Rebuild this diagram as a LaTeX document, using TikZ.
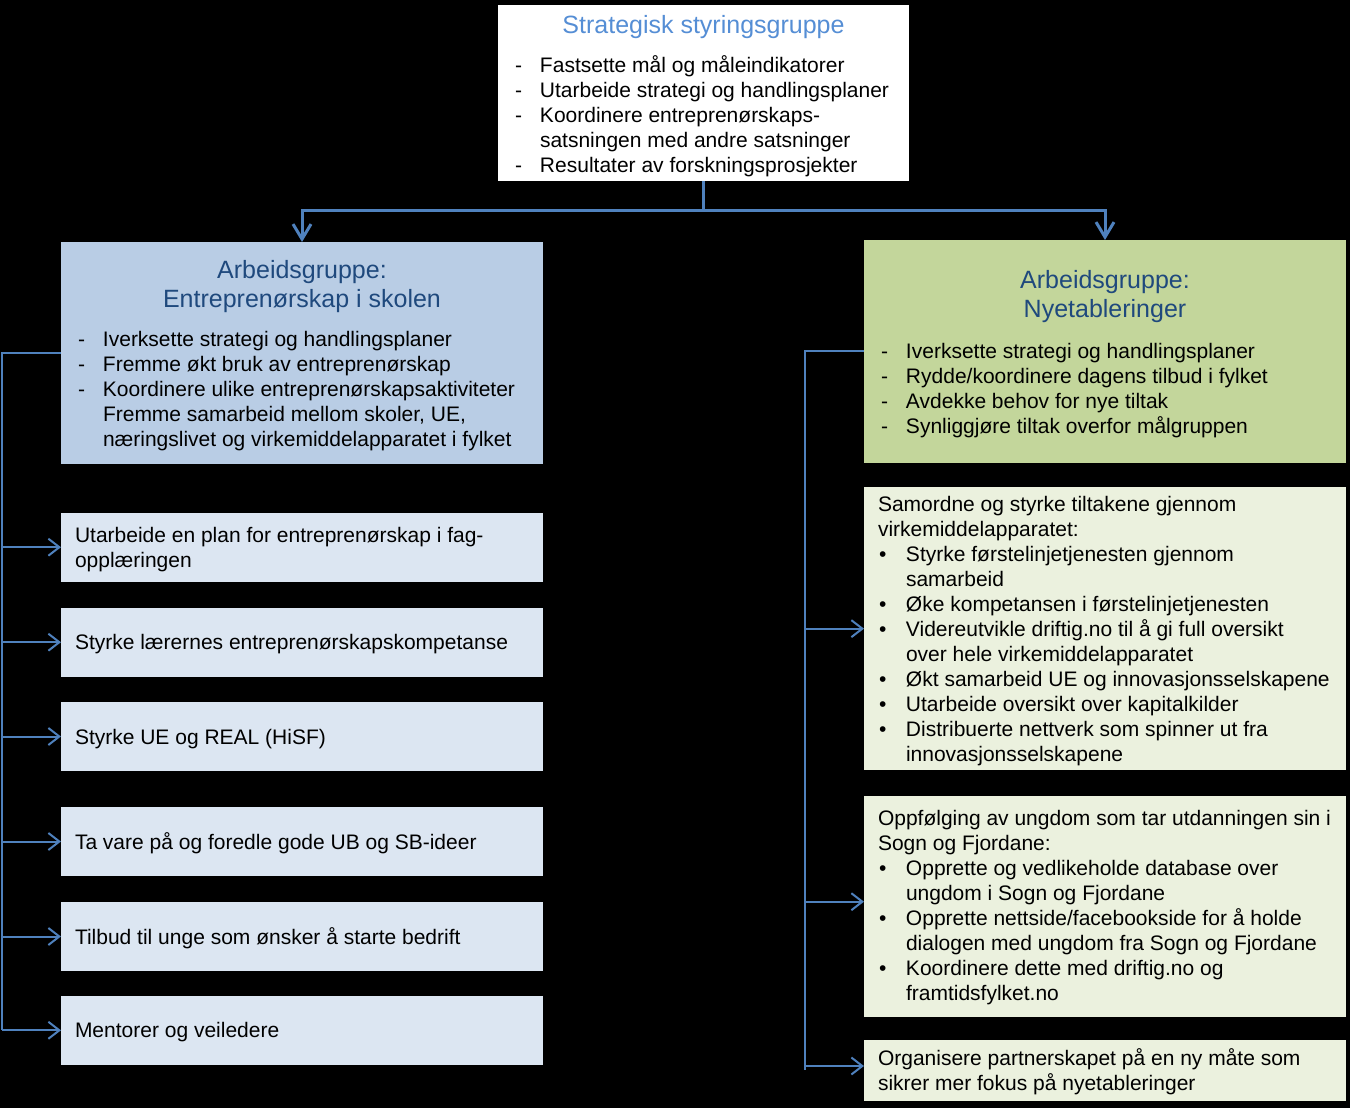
\documentclass[tikz,border=0pt]{standalone}
\usepackage{fontspec}
\setmainfont{Liberation Sans}
\usetikzlibrary{arrows.meta}
\definecolor{conn}{HTML}{4F81BD}
\definecolor{toptitle}{HTML}{558ED5}
\definecolor{grptitle}{HTML}{1F497D}
\definecolor{lgfill}{HTML}{B9CDE5}
\definecolor{rgfill}{HTML}{C3D69B}
\definecolor{lsfill}{HTML}{DCE6F2}
\definecolor{rsfill}{HTML}{EBF1DE}
\newcommand{\itemfont}{\fontsize{21}{25}\selectfont}
\newcommand{\titlefont}{\fontsize{25}{29.5}\selectfont}
\renewcommand{\arraystretch}{1}
\tikzset{
  boxnode/.style={draw=none, inner sep=0pt, outer sep=0pt, minimum width=482pt},
  txt/.style={inner sep=0pt, outer sep=0pt, anchor=base west, font=\itemfont},
  ttl/.style={inner sep=0pt, outer sep=0pt, anchor=base, font=\titlefont},
  thinline/.style={draw=conn, line width=2pt},
  thinarrow/.style={draw=conn, line width=2pt, -{Straight Barb[length=11pt,width=17pt]}},
  thickline/.style={draw=conn, line width=3pt},
  thickarrow/.style={draw=conn, line width=3pt, line join=miter, -{Straight Barb[length=15pt,width=18pt]}}
}
\begin{document}
\begin{tikzpicture}[x=1pt,y=-1pt]
\fill[black] (0,0) rectangle (1350,1108);
\useasboundingbox (0,0) rectangle (1350,1108);

% boxes
\node[boxnode, fill=white, minimum width=410.5pt, minimum height=176pt] (top) at (703.25,93) {};
\node[boxnode, fill=lgfill, minimum height=221.5pt] (lg) at (302,352.75) {};
\node[boxnode, fill=rgfill, minimum height=222.5pt] (rg) at (1105,351.25) {};
\node[boxnode, fill=lsfill, minimum height=69pt] (s1) at (302,547.2) {};
\node[boxnode, fill=lsfill, minimum height=69pt] (s2) at (302,642.2) {};
\node[boxnode, fill=lsfill, minimum height=68.5pt] (s3) at (302,736.5) {};
\node[boxnode, fill=lsfill, minimum height=68.5pt] (s4) at (302,841.5) {};
\node[boxnode, fill=lsfill, minimum height=68.5pt] (s5) at (302,936.5) {};
\node[boxnode, fill=lsfill, minimum height=68.7pt] (s6) at (302,1030.3) {};
\node[boxnode, fill=rsfill, minimum height=282.7pt] (r1) at (1105,628.65) {};
\node[boxnode, fill=rsfill, minimum height=221pt] (r2) at (1105,906.2) {};
\node[boxnode, fill=rsfill, minimum height=60.7pt] (r3) at (1105,1070.35) {};

% top box text
\node[ttl, text=toptitle] (toptitle) at (703.5,33.3) {Strategisk styringsgruppe};
\node[txt] (toptext) at (515,72.5) {\begin{tabular}[t]{@{}p{25pt}@{}l@{}}
- & Fastsette mål og måleindikatorer\\
- & Utarbeide strategi og handlingsplaner\\
- & Koordinere entreprenørskaps-\\
  & satsningen med andre satsninger\\
- & Resultater av forskningsprosjekter
\end{tabular}};

% left group text
\node[ttl, text=grptitle] (lgtitle) at (302,278.3) {\begin{tabular}[t]{@{}c@{}}Arbeidsgruppe:\\Entreprenørskap i skolen\end{tabular}};
\node[txt] (lgtext) at (78,346.7) {\begin{tabular}[t]{@{}p{25pt}@{}l@{}}
- & Iverksette strategi og handlingsplaner\\
- & Fremme økt bruk av entreprenørskap\\
- & Koordinere ulike entreprenørskapsaktiviteter\\
  & Fremme samarbeid mellom skoler, UE,\\
  & næringslivet og virkemiddelapparatet i fylket
\end{tabular}};

% right group text
\node[ttl, text=grptitle] (rgtitle) at (1105,288.3) {\begin{tabular}[t]{@{}c@{}}Arbeidsgruppe:\\Nyetableringer\end{tabular}};
\node[txt] (rgtext) at (881,358.3) {\begin{tabular}[t]{@{}p{25pt}@{}l@{}}
- & Iverksette strategi og handlingsplaner\\
- & Rydde/koordinere dagens tilbud i fylket\\
- & Avdekke behov for nye tiltak\\
- & Synliggjøre tiltak overfor målgruppen
\end{tabular}};

% left sub boxes text
\node[txt] (s1t) at (75,542.5) {\begin{tabular}[t]{@{}l@{}}Utarbeide en plan for entreprenørskap i fag-\\opplæringen\end{tabular}};
\node[txt] (s2t) at (75,649.7) {Styrke lærernes entreprenørskapskompetanse};
\node[txt] (s3t) at (75,744) {Styrke UE og REAL (HiSF)};
\node[txt] (s4t) at (75,849) {Ta vare på og foredle gode UB og SB-ideer};
\node[txt] (s5t) at (75,944) {Tilbud til unge som ønsker å starte bedrift};
\node[txt] (s6t) at (75,1037.8) {Mentorer og veiledere};

% right sub boxes text
\node[txt] (r1t) at (878,511.7) {\begin{tabular}[t]{@{}p{28pt}@{}l@{}}
\multicolumn{2}{@{}l@{}}{Samordne og styrke tiltakene gjennom}\\
\multicolumn{2}{@{}l@{}}{virkemiddelapparatet:}\\
\hspace*{1pt}\textbullet & Styrke førstelinjetjenesten gjennom\\
 & samarbeid\\
\hspace*{1pt}\textbullet & Øke kompetansen i førstelinjetjenesten\\
\hspace*{1pt}\textbullet & Videreutvikle driftig.no til å gi full oversikt\\
 & over hele virkemiddelapparatet\\
\hspace*{1pt}\textbullet & Økt samarbeid UE og innovasjonsselskapene\\
\hspace*{1pt}\textbullet & Utarbeide oversikt over kapitalkilder\\
\hspace*{1pt}\textbullet & Distribuerte nettverk som spinner ut fra\\
 & innovasjonsselskapene
\end{tabular}};
\node[txt] (r2t) at (878,825.7) {\begin{tabular}[t]{@{}p{28pt}@{}l@{}}
\multicolumn{2}{@{}l@{}}{Oppfølging av ungdom som tar utdanningen sin i}\\
\multicolumn{2}{@{}l@{}}{Sogn og Fjordane:}\\
\hspace*{1pt}\textbullet & Opprette og vedlikeholde database over\\
 & ungdom i Sogn og Fjordane\\
\hspace*{1pt}\textbullet & Opprette nettside/facebookside for å holde\\
 & dialogen med ungdom fra Sogn og Fjordane\\
\hspace*{1pt}\textbullet & Koordinere dette med driftig.no og\\
 & framtidsfylket.no
\end{tabular}};
\node[txt] (r3t) at (878,1065) {\begin{tabular}[t]{@{}l@{}}Organisere partnerskapet på en ny måte som\\sikrer mer fokus på nyetableringer\end{tabular}};

% top connectors
\coordinate (hy) at (0,210.7);
\draw[thickline] (top.south) -- (top.south |- hy);
\draw[thickarrow] (top.south |- hy) -| (lg.north);
\draw[thickarrow] (top.south |- hy) -| (rg.north);

% left connectors
\coordinate (lx) at (2,352.75);
\draw[thinline] (lg.west) -- (lx) -- (lx |- s6.west);
\foreach \s in {s1,s2,s3,s4,s5,s6} {
  \draw[thinarrow] (lx |- \s.west) -- (\s.west);
}

% right connectors
\coordinate (rx) at (805,351.25);
\coordinate (rend) at (805,1070);
\coordinate (a2) at (0,901.7);
\coordinate (a3) at (0,1066);
\draw[thinline] (rg.west) -- (rx) -- (rend);
\draw[thinarrow] (rx |- r1.west) -- (r1.west);
\draw[thinarrow] (rx |- a2) -- (r2.west |- a2);
\draw[thinarrow] (rx |- a3) -- (r3.west |- a3);
\end{tikzpicture}
\end{document}
